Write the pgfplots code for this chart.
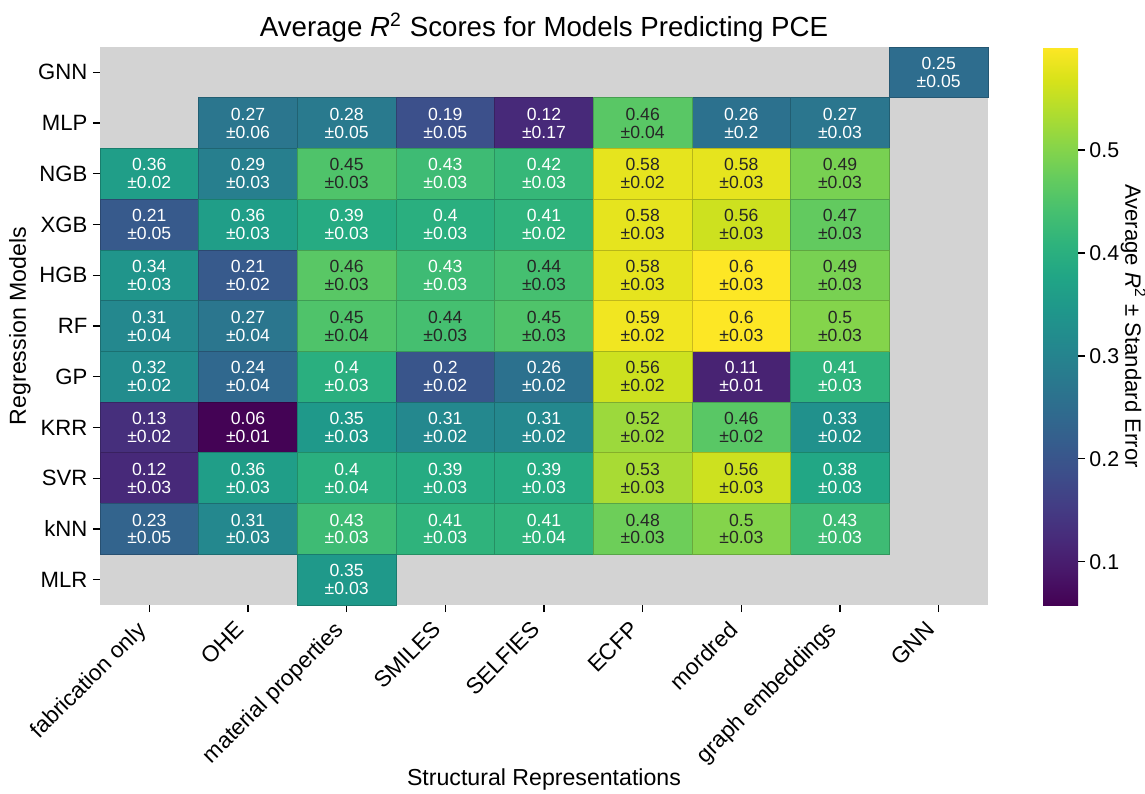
\documentclass[border=0pt]{standalone}
\usepackage{pgfplots}
\pgfplotsset{compat=1.18}
\usepackage{pgfplotstable}
\usepackage{fontspec}
\setmainfont{Liberation Sans}

\definecolor{bgg}{RGB}{211,211,211}
\definecolor{dk}{RGB}{38,38,38}

\newlength\cw \setlength\cw{1.379cm}
\newlength\ch \setlength\ch{0.709cm}
\pgfdeclareplotmark{cell}{%
  \pgfpathrectangle{\pgfpoint{-0.5\cw}{-0.5\ch}}{\pgfpoint{\cw}{\ch}}%
  \pgfusepathqfillstroke}

% x: representation index, y: model index (0 = GNN at top)
% cells whose labels are printed in white
\pgfplotstableread{
x y r2 se
8 0 0.25 0.05
1 1 0.27 0.06
2 1 0.28 0.05
3 1 0.19 0.05
4 1 0.12 0.17
6 1 0.26 0.2
7 1 0.27 0.03
0 2 0.36 0.02
1 2 0.29 0.03
3 2 0.43 0.03
4 2 0.42 0.03
0 3 0.21 0.05
1 3 0.36 0.03
2 3 0.39 0.03
3 3 0.4 0.03
4 3 0.41 0.02
0 4 0.34 0.03
1 4 0.21 0.02
3 4 0.43 0.03
0 5 0.31 0.04
1 5 0.27 0.04
0 6 0.32 0.02
1 6 0.24 0.04
2 6 0.4 0.03
3 6 0.2 0.02
4 6 0.26 0.02
6 6 0.11 0.01
7 6 0.41 0.03
0 7 0.13 0.02
1 7 0.06 0.01
2 7 0.35 0.03
3 7 0.31 0.02
4 7 0.31 0.02
7 7 0.33 0.02
0 8 0.12 0.03
1 8 0.36 0.03
2 8 0.4 0.04
3 8 0.39 0.03
4 8 0.39 0.03
7 8 0.38 0.03
0 9 0.23 0.05
1 9 0.31 0.03
2 9 0.43 0.03
3 9 0.41 0.03
4 9 0.41 0.04
7 9 0.43 0.03
2 10 0.35 0.03
}\cellslight

% cells whose labels are printed in dark grey
\pgfplotstableread{
x y r2 se
5 1 0.46 0.04
2 2 0.45 0.03
5 2 0.58 0.02
6 2 0.58 0.03
7 2 0.49 0.03
5 3 0.58 0.03
6 3 0.56 0.03
7 3 0.47 0.03
2 4 0.46 0.03
4 4 0.44 0.03
5 4 0.58 0.03
6 4 0.6 0.03
7 4 0.49 0.03
2 5 0.45 0.04
3 5 0.44 0.03
4 5 0.45 0.03
5 5 0.59 0.02
6 5 0.6 0.03
7 5 0.5 0.03
5 6 0.56 0.02
5 7 0.52 0.02
6 7 0.46 0.02
5 8 0.53 0.03
6 8 0.56 0.03
5 9 0.48 0.03
6 9 0.5 0.03
}\cellsdark

\pgfplotsset{
  cellmarks/.style={scatter, only marks, mark=cell,
    mark options={line width=0.3pt}, point meta=explicit},
  celltext/.style n args={3}{only marks, mark=none,
    point meta=explicit symbolic,
    nodes near coords={#2},
    every node near coord/.append style={anchor=center, inner sep=0pt,
      text=#1, yshift=#3, font=\fontsize{7}{8}\selectfont}},
}

\begin{document}
\begin{tikzpicture}
\useasboundingbox (-1.397cm,-2.627cm) rectangle (14.605cm,8.456cm);
\begin{axis}[
  name=ax,
  x=\cw, y=\ch,
  xmin=-0.5, xmax=8.5, ymin=-0.5, ymax=10.5,
  y dir=reverse,
  axis background/.style={fill=bgg},
  axis line style={draw=none},
  tick align=outside,
  xtick pos=bottom, ytick pos=left,
  major tick length=2.8pt,
  tick style={black, line width=0.5pt},
  xtick={0,...,8},
  xticklabels={fabrication only, OHE, material properties, SMILES, SELFIES, ECFP, mordred, graph embeddings, GNN},
  ytick={0,...,10},
  yticklabels={GNN,MLP,NGB,XGB,HGB,RF,GP,KRR,SVR,kNN,MLR},
  xticklabel style={xshift=-5.5pt, rotate=45, anchor=north east, inner sep=2pt, font=\fontsize{9}{10}\selectfont},
  yticklabel style={inner sep=2pt, font=\fontsize{8.8}{10}\selectfont},
  xlabel={Structural Representations},
  ylabel={Regression Models},
  every axis x label/.style={at={(axis description cs:0.5,-0.3135)}, anchor=center},
  every axis y label/.style={at={(axis description cs:-0.0901,0.5)}, anchor=center, rotate=90},
  label style={font=\fontsize{9.2}{11}\selectfont},
  title={Average {\itshape R}\textsuperscript{2} Scores for Models Predicting PCE},
  every axis title/.style={at={(axis description cs:0.5,1)}, anchor=base, yshift=0.14cm},
  title style={font=\fontsize{11}{12}\selectfont},
  colormap/viridis,
  point meta min=0.058, point meta max=0.600,
  colorbar,
  colorbar/width=0.489cm,
  colorbar style={
    at={(parent axis.north east)}, anchor=north west, xshift=0.47cm,
    height=7.799cm,
    axis line style={draw=none},
    ytick={0.1,0.2,0.3,0.4,0.5},
    ytick pos=right, yticklabel pos=right,
    tick align=outside,
    major tick length=2.8pt,
    tick style={black, line width=0.5pt},
    yticklabel style={inner sep=1.5pt, font=\fontsize{8.5}{10}\selectfont, /pgf/number format/fixed, /pgf/number format/precision=1},
    /pgf/number format/assume math mode=true,
    ylabel={Average {\itshape R}\textsuperscript{2} ± Standard Error},
    every axis y label/.style={at={(axis description cs:2.58,0.5)}, anchor=center, rotate=-90},
    ylabel style={font=\fontsize{8.8}{10}\selectfont},
  },
  clip=false,
]
\addplot[cellmarks] table[x=x, y=y, meta=r2] {\cellslight};
\addplot[cellmarks] table[x=x, y=y, meta=r2] {\cellsdark};
\addplot[celltext={white}{\pgfplotspointmeta}{0.125cm}] table[x=x, y=y, meta=r2] {\cellslight};
\addplot[celltext={white}{±\pgfplotspointmeta}{-0.125cm}] table[x=x, y=y, meta=se] {\cellslight};
\addplot[celltext={dk}{\pgfplotspointmeta}{0.125cm}] table[x=x, y=y, meta=r2] {\cellsdark};
\addplot[celltext={dk}{±\pgfplotspointmeta}{-0.125cm}] table[x=x, y=y, meta=se] {\cellsdark};
\end{axis}
\end{tikzpicture}
\end{document}
